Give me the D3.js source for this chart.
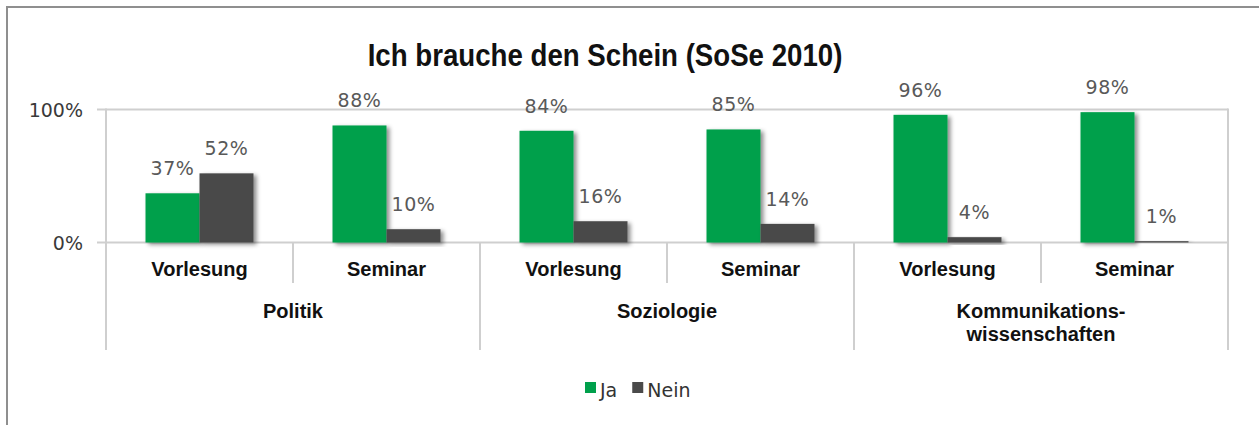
<!DOCTYPE html>
<html><head><meta charset="utf-8">
<script src="https://cdn.jsdelivr.net/npm/d3@7"></script>
<style>
html,body{margin:0;padding:0;background:#fff;}
svg{display:block;}
</style></head>
<body>
<svg id="chart" width="1259" height="425"></svg>
<script>
const title = "Ich brauche den Schein (SoSe 2010)";
const groups = [["Politik"], ["Soziologie"], ["Kommunikations-", "wissenschaften"]];
const subcats = ["Vorlesung", "Seminar"];
const seriesNames = ["Ja", "Nein"];
const seriesColors = ["#00a04c", "#4a4a4a"];
const jaValues = [37, 88, 84, 85, 96, 98];
const neinValues = [52, 10, 16, 14, 4, 1];
const yTicks = [0, 100];

const svg = d3.select("#chart");
const W = 1259, H = 425;
const plot = {left: 106, right: 1228, top: 109.5, bottom: 242.5};
const labelFont = "'DejaVu Sans', sans-serif";
const boldFont = "'Liberation Sans', Arial, sans-serif";

// outer frame
svg.append("path")
  .attr("d", `M7,${H + 5} L7,7 L${W + 5},7`)
  .attr("fill", "none").attr("stroke", "#8f8f8f").attr("stroke-width", 2);

// shadow filter
const defs = svg.append("defs");
const f = defs.append("filter").attr("id", "shadow").attr("x", "-20%").attr("y", "-20%").attr("width", "150%").attr("height", "150%");
f.append("feDropShadow").attr("dx", 3).attr("dy", 2).attr("stdDeviation", 2)
  .attr("flood-color", "#000").attr("flood-opacity", 0.45);

// categories
const cats = [];
groups.forEach((g, gi) => subcats.forEach((s, si) => cats.push({key: gi + "-" + si, group: gi, sub: s})));
const rows = cats.map((c, i) => ({...c, values: [jaValues[i], neinValues[i]]}));

const x = d3.scaleBand().domain(cats.map(c => c.key)).range([plot.left, plot.right])
  .paddingInner(0.4225).paddingOuter(0.21125);
const xs = d3.scaleBand().domain(seriesNames).range([0, x.bandwidth()]);
const y = d3.scaleLinear().domain([0, 100]).range([plot.bottom, plot.top]);
const step = x.step();

const gridColor = "#cfcfcf";

// horizontal gridlines + ticks
svg.append("g").selectAll("line").data(yTicks).join("line")
  .attr("x1", plot.left - 9).attr("x2", plot.right)
  .attr("y1", d => y(d)).attr("y2", d => y(d))
  .attr("stroke", gridColor).attr("stroke-width", 2);

svg.append("g").selectAll("text").data(yTicks).join("text")
  .attr("x", 83).attr("y", d => y(d) + 7)
  .attr("text-anchor", "end")
  .attr("font-family", labelFont).attr("font-size", 19).attr("fill", "#3a3a3a")
  .text(d => d + "%");

// vertical lines: left axis, right border, separators
const groupEdges = [0, 1, 2, 3].map(i => plot.left + i * 2 * step);
const subEdges = [0, 1, 2].map(i => plot.left + (2 * i + 1) * step);
svg.append("g").selectAll("line").data(groupEdges).join("line")
  .attr("x1", d => d).attr("x2", d => d)
  .attr("y1", (d, i) => (i === 0 || i === 3) ? plot.top - 1 : plot.bottom)
  .attr("y2", 350)
  .attr("stroke", gridColor).attr("stroke-width", 2);
svg.append("g").selectAll("line").data(subEdges).join("line")
  .attr("x1", d => d).attr("x2", d => d)
  .attr("y1", plot.bottom).attr("y2", 283)
  .attr("stroke", gridColor).attr("stroke-width", 2);

// bars
const barG = svg.append("g").selectAll("g").data(rows).join("g")
  .attr("transform", d => `translate(${x(d.key)},0)`);
barG.selectAll("rect").data(d => d.values.map((v, i) => ({s: seriesNames[i], v, i}))).join("rect")
  .attr("x", d => xs(d.s)).attr("width", xs.bandwidth())
  .attr("y", d => y(d.v)).attr("height", d => y(0) - y(d.v))
  .attr("fill", d => seriesColors[d.i])
  .attr("filter", "url(#shadow)");
barG.selectAll("text").data(d => d.values.map((v, i) => ({s: seriesNames[i], v, i}))).join("text")
  .attr("x", d => xs(d.s) + xs.bandwidth() / 2)
  .attr("y", d => y(d.v) - 18)
  .attr("text-anchor", "middle")
  .attr("font-family", labelFont).attr("font-size", 19).attr("fill", "#595959")
  .attr("letter-spacing", 0.6)
  .text(d => d.v + "%");

// sub category labels
svg.append("g").selectAll("text").data(rows).join("text")
  .attr("x", d => x(d.key) + x.bandwidth() / 2)
  .attr("y", 276)
  .attr("text-anchor", "middle")
  .attr("font-family", boldFont).attr("font-weight", "bold").attr("font-size", 20).attr("fill", "#111")
  .text(d => d.sub);

// group labels
const gl = svg.append("g").selectAll("text").data(groups).join("text")
  .attr("x", (d, i) => plot.left + (2 * i + 1) * step)
  .attr("y", 318)
  .attr("text-anchor", "middle")
  .attr("font-family", boldFont).attr("font-weight", "bold").attr("font-size", 20).attr("fill", "#111");
gl.selectAll("tspan").data(d => d).join("tspan")
  .attr("x", function () { return d3.select(this.parentNode).attr("x"); })
  .attr("dy", (d, i) => i === 0 ? 0 : 23)
  .text(d => d);

// title (condensed horizontally to match the narrow original face)
const tG = svg.append("g");
const t = tG.append("text")
  .attr("x", 0).attr("y", 0)
  .attr("text-anchor", "middle")
  .attr("font-family", "'Liberation Sans', Arial, sans-serif")
  .attr("font-weight", "bold").attr("font-size", 31).attr("fill", "#111")
  .text(title);
const tw = t.node().getComputedTextLength();
tG.attr("transform", `translate(605,66) scale(${475 / tw},1)`);

// legend
const lg = svg.append("g");
let lx = 585;
seriesNames.forEach((s, i) => {
  lg.append("rect").attr("x", lx).attr("y", 382).attr("width", 11).attr("height", 11).attr("fill", seriesColors[i]);
  const tt = lg.append("text").attr("x", lx + 15).attr("y", 397)
    .attr("font-family", labelFont).attr("font-size", 19).attr("fill", "#333").text(s);
  lx += 15 + tt.node().getComputedTextLength() + 15;
});
</script>
</body></html>
